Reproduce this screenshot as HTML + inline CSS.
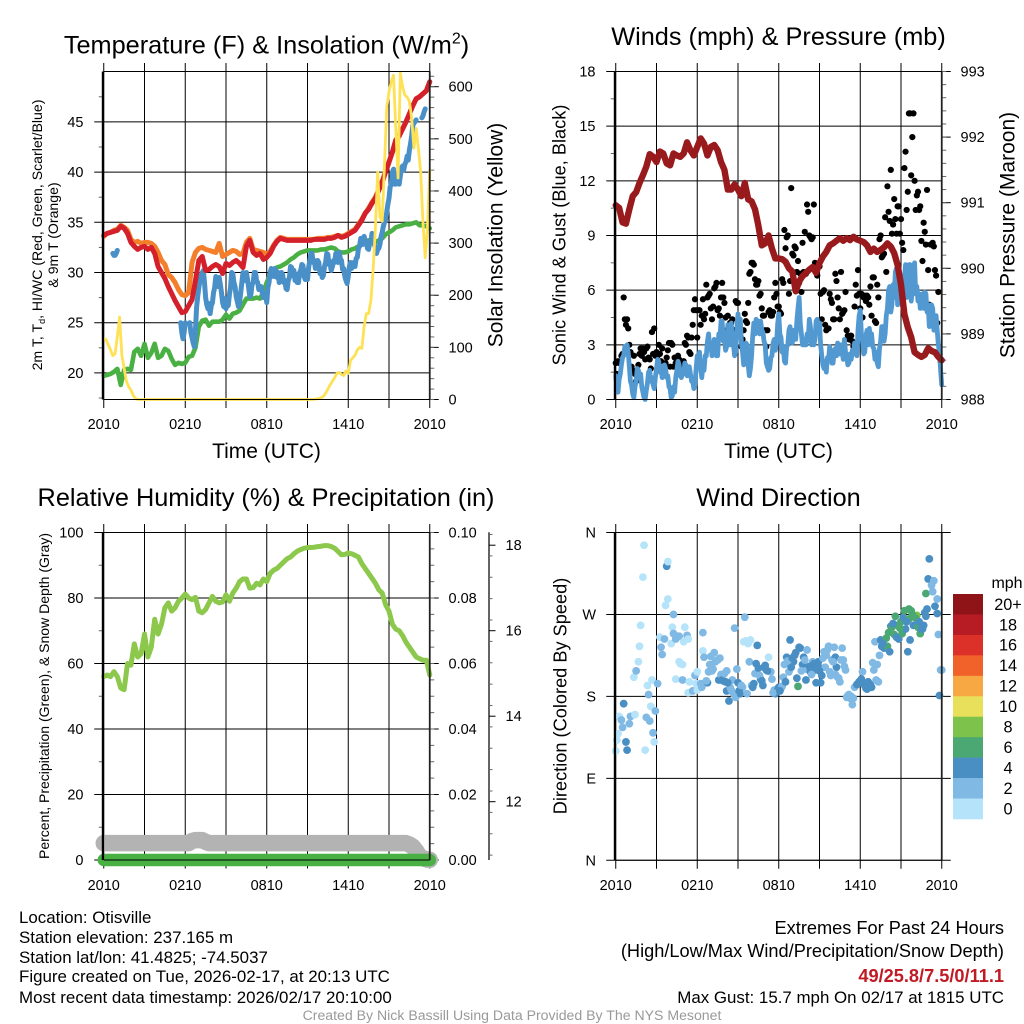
<!DOCTYPE html>
<html lang="en">
<head>
<meta charset="utf-8">
<title>Otisville Station Meteogram</title>
<style>
html,body{margin:0;padding:0;background:#fff;width:1024px;height:1024px;overflow:hidden}
svg{display:block}
text{font-family:"Liberation Sans",sans-serif;fill:#000}
.title{font-size:25.3px;text-anchor:middle}
.axt{font-size:21px;text-anchor:middle}
.axs{font-size:18.2px;text-anchor:middle}
.foot{font-size:16.9px}
.foot2{font-size:18.2px}
</style>
</head>
<body>
<svg id="chart" xmlns="http://www.w3.org/2000/svg" width="1024" height="1024" viewBox="0 0 1024 1024">
  <rect x="0" y="0" width="1024" height="1024" fill="#fff"/>
  <g id="p1"></g>
  <g id="p2"></g>
  <g id="p3"></g>
  <g id="p4"></g>

  <text class="title" x="266.5" y="53.5">Temperature (F) &amp; Insolation (W/m<tspan dy="-10" font-size="16">2</tspan><tspan dy="10">)</tspan></text>
  <text class="title" x="778.5" y="45">Winds (mph) &amp; Pressure (mb)</text>
  <text class="title" x="266" y="506">Relative Humidity (%) &amp; Precipitation (in)</text>
  <text class="title" x="778.5" y="506">Wind Direction</text>

  <text class="axt" x="266.5" y="458">Time (UTC)</text>
  <text class="axt" x="778.5" y="458">Time (UTC)</text>

  <text font-size="14.1" text-anchor="middle" transform="translate(42,235) rotate(-90)">2m T, T<tspan dy="3" font-size="9">d</tspan><tspan dy="-3">, HI/WC (Red, Green, Scarlet/Blue)</tspan></text>
  <text font-size="14.1" text-anchor="middle" transform="translate(58,235) rotate(-90)">&amp; 9m T (Orange)</text>
  <text class="axt" transform="translate(502.5,235) rotate(-90)">Solar Insolation (Yellow)</text>
  <text class="axs" transform="translate(565.5,235) rotate(-90)">Sonic Wind &amp; Gust (Blue, Black)</text>
  <text class="axt" transform="translate(1014.5,235) rotate(-90)">Station Pressure (Maroon)</text>
  <text font-size="14" text-anchor="middle" transform="translate(49,696) rotate(-90)">Percent, Precipitation (Green), &amp; Snow Depth (Gray)</text>
  <text class="axs" transform="translate(566.5,696) rotate(-90)">Direction (Colored By Speed)</text>

  <g>
    <text class="foot" x="19" y="923">Location: Otisville</text>
    <text class="foot" x="19" y="943">Station elevation: 237.165 m</text>
    <text class="foot" x="19" y="963">Station lat/lon: 41.4825; -74.5037</text>
    <text class="foot" x="19" y="982">Figure created on Tue, 2026-02-17, at 20:13 UTC</text>
    <text class="foot" x="19" y="1003">Most recent data timestamp: 2026/02/17 20:10:00</text>
  </g>
  <g text-anchor="end">
    <text class="foot2" x="1004" y="934">Extremes For Past 24 Hours</text>
    <text class="foot2" x="1004" y="957">(High/Low/Max Wind/Precipitation/Snow Depth)</text>
    <text class="foot2" x="1004" y="982" font-weight="bold" style="fill:#c01a25">49/25.8/7.5/0/11.1</text>
    <text class="foot" x="1004" y="1003">Max Gust: 15.7 mph On 02/17 at 1815 UTC</text>
  </g>
  <text x="512" y="1020" font-size="14.1" text-anchor="middle" style="fill:#999">Created By Nick Bassill Using Data Provided By The NYS Mesonet</text>
</svg>
<script>
/* ---------- shared axis labels ---------- */
const timeTickHours = [0,3,6,9,12,15,18,21,24];
const timeTickLabels = ["2010","","0210","","0810","","1410","","2010"];

/* ---------- temperature panel data (15-minute samples) ---------- */
const tempTicks = [20,25,30,35,40,45];
const solarTicks = [0,100,200,300,400,500,600];
const airTemp = [33.7,33.9,34,34.1,34.2,34.6,34.4,33.9,33,32.6,32.3,32.5,
 32.6,32.3,32.5,31.9,30.6,30,29.4,28.6,27.9,27.2,26.6,26,
 26.1,26.7,27.3,29.2,31.2,31.6,30.2,30.3,30.6,30.8,30.6,29.9,
 30.9,30.7,31,31.2,30.9,30.5,32.6,33.2,32,31.7,31.9,31.3,
 31.5,31.9,32.6,33.1,33.4,33.3,33.2,33.2,33.2,33.2,33.2,33.2,
 33.2,33.2,33.3,33.3,33.3,33.3,33.4,33.4,33.5,33.7,33.5,33.6,
 33.8,34,34.2,34.7,35.2,35.9,36.3,36.9,37.4,38.2,39,40,
 41,42,43.2,43.6,44.3,45,45.8,46.6,47.3,47.5,47.8,48.1,49];
const nineMeterTemp = [33.6,33.9,34,34.2,34.3,34.7,34.5,34.2,33.3,33,33.1,32.9,
 33,33,32.9,32.6,32,31.2,30.8,29.8,29.5,29,28.3,27.8,
 27.7,28,31,32,32.4,32.5,32.3,32.2,32.1,32,32.9,31.6,
 31.8,32,32.2,32.1,31.8,31.9,33,33.4,32.3,32.2,32.1,32,
 31.8,32.1,32.7,33.2,33.5,33.4,33.3,33.3,33.3,33.3,33.3,33.3,
 33.3,33.3,33.3,33.4,33.4,33.4,33.5,33.5,33.6,33.7,33.6,33.7,
 33.9,34.1,34.3,34.8,35.3,35.9,36.4,37,37.5,38.3,39.1,40.1,
 41,42,43.2,43.6,44.3,45,45.8,46.6,47.3,47.5,47.8,48.1,49];
const dewPoint = [19.7,19.8,19.9,20.1,20.4,18.8,20.3,20.4,20.3,22.1,22.4,21.7,
 22.9,21.5,22,22.9,21.5,21.7,22.4,22.2,21.4,20.8,21,20.9,
 21,21.6,21.7,22.5,24.6,25.2,25.3,24.7,25.1,25.1,25.1,25.3,
 25.8,25.4,25.9,26,26.2,26.8,27.4,27.4,27.4,27.5,27.4,28,
 29,29.8,30.2,30.5,30.6,30.8,31,31.3,31.5,31.8,32,32.1,
 32.2,32.2,32.2,32.2,32.3,32.3,32.4,32.5,32.4,32.1,32,32,
 32.1,32.3,32.4,32.6,32.8,33,33.2,33,33,33.2,33.4,33.8,
 34,34.2,34.5,34.6,34.7,34.8,34.8,34.9,35,34.7,34.7,34.6,34.4];
/* 5-minute samples */
const heatWindChill = [null,null,null,null,null,null,null,null,31.9,31.7,31.7,31.9,32.2,
 null,null,null,null,null,null,null,null,null,null,null,null,null,null,null,null,null,null,null,null,null,null,null,
 null,null,null,null,null,null,null,null,null,null,null,null,null,null,null,null,null,null,null,null,null,null,null,null,null,null,null,null,null,null,null,null,
 25,24,23.4,24,
 25,null,null,null,25,24,23.5,23,22.6,24.2,26.5,27.6,28.5,29.2,29.7,30,30.2,29,27.5,26.8,26.4,26.9,25.9,26.7,27,28,28.5,29.6,29.4,28.6,29.5,28.8,28,27,26.6,27.4,
 26.4,27,26.7,27.8,28.5,30,29.9,29,28.6,27.6,27.1,26.6,27,28,29,30,29.9,29.2,30,29.3,28.5,27.6,27.8,28.8,29,30,30,29.2,29,28.3,28.4,28.6,28,27.5,27.5,27.9,
 27,28.5,29,30,30.4,29.7,29.6,30.4,30.2,29.5,30,29,29.4,30,29.8,29,29.2,28.4,28.3,29.2,29.5,30.6,30.5,29.7,30.2,29.2,29.8,29,29,30,30.2,30.8,30.7,29.6,29.3,30.2,
 29.3,30.5,31.2,31.9,31.9,31,31.2,30.4,30.5,31.2,31,29.9,30.2,29.5,29.7,30.6,31,31.9,31.8,30.8,30.8,30.2,30.6,31.2,31,31.9,31.6,31,32,31.4,31.2,30.3,30.4,29.6,29.2,28.9,
 29.6,30.6,31,30.4,30.8,31,30.6,31.4,31.5,32.4,32.6,33.4,33.2,32.8,33.6,33.2,33,32.4,32.3,33,33,33.9,33.7,32.8,32.5,31.9,32.3,32.4,32.8,33.6,34,34.6,35,35.2,36,36.8,
 37.4,38.5,38.8,40,40.3,38.8,38.8,39.6,39.2,38.8,39.6,40.4,40.6,40.2,40.8,41,41.6,41.2,42.2,42.8,43.6,44.6,44.9,45,45.2,null,null,null,null,45.4,45.6,46,46.3,null,null,null,null];
/* 10-minute samples */
const solarRadiation = [117,115,105,95,84,88,120,158,85,60,35,25,18,8,2,
 0,0,0,0,0,0,0,0,0,0,0,0,0,0,0,0,0,0,0,0,0,0,0,0,0,0,0,0,0,0,0,0,0,0,0,0,0,0,0,0,0,0,0,0,0,0,0,0,0,0,0,0,0,0,0,0,0,0,0,0,0,0,0,0,0,0,0,0,0,0,0,0,0,0,0,0,0,0,
 0.5,1,2,3,6,12,20,28,35,42,50,52,48,46,55,50,75,80,85,95,100,98,
 140,165,165,190,250,330,436,350,342,450,559,590,610,622,520,425,626,600,584,580,572,540,482,520,480,436,340,272,330,440];

/* ---------- wind panel data ---------- */
const windTicks = [0,3,6,9,12,15,18];
const pressureTicks = [988,989,990,991,992,993];
/* 5-minute sustained wind */
const sustainedWind = [1.3,0.6,0.4,1.1,1.4,1.9,2.3,2.4,2.9,2.7,3,2.6,1.8,1,0.8,0.3,0.1,0.7,1,1.7,1.6,1.2,1.4,0.7,0.4,0.1,0,0.5,0.9,1.5,1.6,1,1.2,0.8,0.6,1.2,
 1.7,2.2,2.1,1.5,1.8,1.2,1.5,1.9,1.7,1.2,1.3,0.7,0.6,0.1,0.2,0.7,0.4,1.2,1.6,2.1,1.9,1.3,1.2,1.6,1.4,2,1.9,1.3,1.5,1.8,1.4,1,1,0.6,0.8,1.7,
 2.4,2,2.6,1.7,1.2,1.9,1.6,2.4,2.4,3.2,3.6,2.9,3.1,2.4,2.7,3.3,2.9,2.4,2.4,3.6,3.3,4.3,4.3,3.2,3.4,2.7,2.9,4.1,3.8,3,4.2,3.4,3,2.4,2.6,3.9,
 4.7,3.8,4.4,3.1,2.6,1.9,2.1,3.1,3,1.9,1.3,1.7,2.4,3.5,4.2,3.6,4.4,3.7,4.3,3.6,4.3,3.8,3.7,3.2,3,2,1.8,1.6,1.7,2.3,2.4,3.1,3.3,2.7,3,4.1,
 4.7,3.6,3.4,2.6,2.9,2.1,2,2.9,3,3.8,4,3.2,3.1,3.8,3.7,3.3,4.3,5,5.6,4.2,3.6,3,3.3,3,3,3.6,3.2,4.4,4,3,3.2,3,3.3,4.3,4.4,3.8,
 4.2,3,2.4,1.9,1.7,2.1,1.5,2.3,2.2,2.9,2.5,2,2,2.7,2.8,2.4,3.1,2.6,2.5,3,2.7,2.2,3.3,2.6,2.4,1.9,2,2.5,2.2,2.7,2.5,3.1,3,2.4,3.8,4.6,
 4.9,3.6,3.2,2.5,2.6,3.5,3.8,3,3.9,3.3,3.6,2.9,2.8,2.2,2.6,2,1.8,2.8,3.2,4,4,3.2,3.6,4.6,5,6,6.2,4.8,5.2,6.3,5.6,7,7.2,5.2,5.4,6.6,
 6.4,5.2,5,6.6,7.4,5.6,6.2,7.4,7.4,5.4,6,7.2,7.5,5.8,6.2,5.4,5.8,5,5.4,5.8,5,5.9,5.8,4.8,5.2,4,4.2,5.2,5,3.8,4,4.6,3.8,3,2.6,1.6,0.8];
/* 5-minute gusts */
const windGust = [2,1.4,2.1,2,2,2.4,2.5,5.6,4.4,4.1,4.4,3.9,3,2.6,1.8,1.6,2.4,1.4,1,1.3,1.9,2.5,2.8,2.4,2.8,2.6,2.2,2.8,2.9,2.3,2.2,1.7,3.7,2.5,3.9,2.4,
 2.6,2.4,3,2.5,2.1,2.8,1.7,1.4,2,2.3,2.7,3.1,1.8,3.1,3,1.8,2.3,2,1.9,2.4,2.2,2.1,2,1.9,2.1,3.1,3,3.5,3.4,2.6,2.5,3.4,4.1,4.9,5.5,4.9,
 3.4,4.9,4.9,4.1,4.6,5.5,4.4,4.7,6.3,5.6,5.7,5.8,5,4.4,5.1,6.1,6.2,6.4,4.9,5,4.6,5.6,6.4,5.6,5.3,4.5,3.8,4.6,3.2,4.2,4.2,4.4,3.3,3.8,5.4,5.3,
 5.3,4.2,3.5,2.9,3.3,3.8,4.7,4.3,4.2,5.3,6.9,7,7.5,7.5,7.4,6.6,6.3,6.3,6.5,5.7,5.8,5,4.6,4.6,3.8,2.9,3.8,4.8,4.9,4.6,4.6,4.8,5.6,6.4,5.8,5.1,
 5.1,4.8,4.7,6.6,6.4,9.3,8.3,8.9,9,5.8,6.5,11.6,8,7.9,8.4,8.3,7,7.6,6.4,6.9,5.9,8.6,7,9.2,6.9,10.7,10.3,9,8.9,8.8,8.9,10.7,7.5,7.4,6.8,7.4,
 7.3,5.8,4.4,5.9,6,4.1,3.8,3.9,3.9,5.8,5.5,5.3,4.4,4.4,6.9,6.5,5.6,5,4.4,7,4.7,4.8,4.9,5.9,3.8,3.5,3.3,3.5,3.5,3.2,2.9,5.1,6.3,5.7,7.1,5.8,
 5,5.8,4.5,5.6,5.7,5.4,5.7,5.6,5.2,6.2,4.6,6.7,6.7,4.3,4.2,6.3,5.6,8.8,9,7.8,7.9,8,10,7,11.7,10.3,9.8,12.6,9.1,9.6,11,9.9,9.1,10.6,10.6,9.1,
 9.9,8.6,8.2,12.7,13.6,10.4,11.4,15.7,15.7,12.3,14.4,15.7,12,10.4,11.2,11.4,10.4,10.6,8.7,7.6,9.7,9.2,8.5,11.5,7.1,5.2,8.5,4.8,8.6,8.4,7.1,6.8,4.2,5.9,2.5,2.1];
/* 15-minute station pressure */
const stationPressure = [990.96,990.92,990.7,990.68,990.9,991.1,991.16,991.3,991.42,991.55,991.74,991.7,
 991.62,991.78,991.75,991.6,991.57,991.75,991.72,991.7,991.75,991.92,991.8,991.72,
 991.85,991.98,991.9,991.72,991.85,991.88,991.8,991.62,991.5,991.2,991.2,991.28,
 991.2,991.1,991.3,991.05,991.02,990.9,990.65,990.35,990.38,990.5,990.3,990.15,
 990.15,990.14,990.1,990,989.95,989.65,989.8,989.88,989.93,989.98,990.02,989.93,
 990.08,990.18,990.25,990.35,990.38,990.42,990.46,990.42,990.46,990.43,990.48,990.44,
 990.42,990.4,990.35,990.25,990.3,990.25,990.28,990.32,990.38,990.33,990.23,990.05,
 989.75,989.3,989.1,988.95,988.72,988.68,988.65,988.68,988.78,988.74,988.72,988.65,988.6];

/* ---------- humidity panel data (15-minute samples) ---------- */
const humidityTicks = [0,20,40,60,80,100];
const precipTicks = [0,0.02,0.04,0.06,0.08,0.1];
const precipTickLabels = ["0.00","0.02","0.04","0.06","0.08","0.10"];
const snowTicks = [12,14,16,18];
const relativeHumidity = [56,56.5,56,57.5,56,52.5,52,60,59.5,66,62,63,
 69,62,65,73.5,69,72,77,78.5,76,77,79,80,
 81.2,80,79.5,80.2,76,75.5,76.5,78.5,80.5,79,78.5,78.8,
 81,79,81.5,83,85,85.8,85.8,83,83.2,84.5,84,85.8,
 85,87.5,88.5,89,90,91,92,92.5,93.5,94.3,94.8,95.2,
 95.4,95.4,95.5,95.7,95.8,96,96,95.7,95.2,94.2,93.2,93.3,
 93.7,93.5,93,92.5,90.5,89,87.5,86,84.5,82.5,81.5,78,
 76,72,70.5,70,68.5,66.5,65,63.5,62,61.5,61,61,56.5];
const precipitation = [0,0,0,0,0,0,0,0,0];
const snowDepth = [11.03,11.03,11.03,11.03,11.03,11.03,11.03,11.03,11.03,11.03,11.03,11.03,
 11.03,11.03,11.03,11.03,11.03,11.03,11.03,11.03,11.03,11.03,11.03,11.03,
 11.03,11.03,11.08,11.1,11.1,11.1,11.06,11.03,11.03,11.03,11.03,11.03,
 11.03,11.03,11.03,11.03,11.03,11.03,11.03,11.03,11.03,11.03,11.03,11.03,
 11.03,11.03,11.03,11.03,11.03,11.03,11.03,11.03,11.03,11.03,11.03,11.03,
 11.03,11.03,11.03,11.03,11.03,11.03,11.03,11.03,11.03,11.03,11.03,11.03,
 11.03,11.03,11.03,11.03,11.03,11.03,11.03,11.03,11.03,11.03,11.03,11.03,
 11.03,11.03,11.03,11.03,11.03,11.03,11,10.95,10.85,10.72,10.68,10.65,10.64];

/* ---------- wind direction panel data ---------- */
const directionTicks = [0,90,180,270,360];
const directionTickLabels = ["N","E","S","W","N"];
const dirSteps = [0,1,2,3,5,6,7,9,10,12,13,16,17,18,20,21,22,24,25,26,27,28,29,30,31,32,33,34,35,37,
 39,40,41,43,45,46,46,44,49,50,51,51,53,55,53,56,56,57,59,59,60,61,63,64,64,65,68,70,71,72,
 72,75,76,77,77,78,81,82,83,84,85,87,88,90,91,93,94,95,97,98,98,100,101,103,105,106,107,108,
 110,112,114,113,115,116,118,119,120,122,123,124,125,126,128,130,131,133,135,137,138,140,141,143,144,
 146,147,148,149,151,153,154,155,157,158,160,161,162,163,165,166,168,169,170,172,174,175,176,177,179,181,181,
 182,184,185,187,188,189,190,191,193,194,195,196,197,199,200,201,202,204,205,207,208,209,210,211,213,215,216,218,
 219,221,222,224,225,227,228,229,230,232,233,234,235,237,239,240,242,243,244,246,247,249,250,252,253,
 254,255,256,258,259,259,260,261,263,266,267,269,271,272,274,274,275,276,277,279,280,281,282,284,284,285,286,287,288,
 80,86,92,96,99,102,104,109,111,117,121,127,129,132,134,139,145,150,152,156,159,164,167,171,173,178,180,183,186,192,194,198,203,206,214,217,220,223,226,231,236,241,245,248,251,257,262,265,268,270,273];
const dirDegrees = [120,132,139,158,154,146,172,130,121,150,158,201,160,208,218,235,258,311,346,121,157,192,182,153,169,198,140,130,164,194,
 245,234,226,243,323,328,287,280,238,256,270,249,243,246,199,218,246,216,215,198,240,256,247,243,184,196,186,203,194,187,
 207,194,190,230,250,223,195,207,215,224,208,228,218,220,198,204,198,197,196,208,186,175,190,198,255,179,210,195,
 183,190,267,240,241,183,218,242,192,194,205,216,236,211,199,192,212,209,223,207,199,187,183,187,190,
 189,191,201,215,223,207,242,212,218,225,200,191,234,233,215,223,198,231,209,207,218,216,209,195,218,195,211,
 203,229,212,231,235,207,203,220,234,223,212,201,200,220,233,220,213,179,181,178,180,171,178,190,193,196,197,207,
 194,189,188,190,193,217,209,240,198,196,225,242,235,233,244,235,229,257,256,248,268,258,243,262,249,
 267,274,254,229,265,276,242,274,258,269,256,249,254,258,268,293,276,309,331,302,295,307,279,271,287,248,181,209,209,
 197,210,222,205,195,187,183,186,192,238,190,203,197,214,208,184,186,196,219,222,228,208,220,213,204,214,208,222,225,218,204,196,209,182,194,199,192,196,190,215,238,250,260,245,255,262,270,266,262,254,272];
const dirSpeeds = [0,0,0,0,2,2,4,4,4,2,2,0,0,2,0,0,0,0,0,0,2,0,2,2,0,0,2,0,2,2,
 0,2,2,2,4,0,0,0,0,0,2,2,2,2,0,0,2,0,0,2,0,0,2,0,0,0,2,2,0,0,
 0,2,2,0,2,2,4,2,2,2,2,2,2,2,4,2,4,4,4,2,4,4,2,2,2,2,2,4,
 4,2,2,0,0,2,2,0,2,4,2,4,4,4,4,4,4,4,0,2,2,2,4,4,4,
 4,2,2,2,4,2,4,4,4,4,4,6,4,4,4,4,4,2,2,4,2,4,4,4,4,4,4,
 4,2,2,2,2,2,2,2,2,4,4,2,2,2,2,2,2,2,2,2,2,2,2,2,4,4,4,2,
 2,4,4,4,4,2,2,2,2,2,2,4,4,4,6,6,4,4,6,6,6,6,4,6,6,
 4,6,4,4,6,6,4,6,4,8,6,6,4,4,4,6,4,4,4,2,2,2,4,4,2,2,4,2,2,
 2,2,2,2,4,2,2,4,2,0,4,2,4,4,4,2,4,4,2,4,4,2,2,4,2,4,4,2,2,2,2,2,2,2,4,4,4,4,4,2,4,6,4,4,6,4,6,6,4,4,4];
const legendLabels = ["20+","18","16","14","12","10","8","6","4","2","0"];
const legendColors = ["#8f1418","#b71b24","#dc3128","#f0622a","#f7a842","#e8e05b","#7cc24b","#4ba873","#4a8fc4","#7fb9e4","#b5e3f9"];

/* ---------- drawing ---------- */
const SVGNS = "http://www.w3.org/2000/svg";
function mk(tag, attrs, parent){
  const el = document.createElementNS(SVGNS, tag);
  for (const k in attrs) el.setAttribute(k, attrs[k]);
  parent.appendChild(el);
  return el;
}
function linearScale(d0, p0, d1, p1){
  return function(v){ return p0 + (v - d0) * (p1 - p0) / (d1 - d0); };
}
function drawSeries(parent, values, xFrac, yFn, color, width, name){
  let d = "", pen = false;
  values.forEach(function(v, i){
    if (v === null) { pen = false; return; }
    const x = xFrac(i / (values.length - 1)).toFixed(2);
    const y = yFn(v).toFixed(2);
    d += (pen ? "L" : "M") + x + " " + y;
    pen = true;
  });
  const p = mk("path", {d:d, fill:"none", stroke:color, "stroke-width":width, "stroke-linecap":"round", "stroke-linejoin":"round"}, parent);
  
  
}
function hLine(parent, x1, x2, y, color, w, name){
  const l = mk("line", {x1:x1, x2:x2, y1:y, y2:y, stroke:color, "stroke-width":w}, parent);
  
  
}
function vLine(parent, x, y1, y2, color, w, name){
  const l = mk("line", {x1:x, x2:x, y1:y1, y2:y2, stroke:color, "stroke-width":w}, parent);
  
  
}
function label(parent, x, y, str, anchor, name, size){
  const t = mk("text", {x:x, y:y, "font-size":size || 14.5, "text-anchor":anchor}, parent);
  t.textContent = str;
  
  
}
function timeGrid(parent, x0, x1, top, bottom, labelY){
  const frac = linearScale(0, x0, 24, x1);
  timeTickHours.forEach(function(h, i){
    vLine(parent, frac(h), top - 8.5, bottom + 8.5, "#000", 1, "vertical-gridline");
    if (timeTickLabels[i]) label(parent, frac(h), labelY, timeTickLabels[i], "middle", "x-tick-label");
  });
}
function spines(parent, x0, x1, top, bottom){
  vLine(parent, x0 - 0.8, top, bottom, "#000", 2.3, "left-spine");
  vLine(parent, x1, top, bottom, "#222", 1.8, "right-spine");
  hLine(parent, x0, x1, top, "#000", 1, "top-spine");
  hLine(parent, x0, x1, bottom, "#000", 1, "bottom-spine");
}
function minorTicks(parent, x, dir, len, from, to, step, yFn, name){
  const count = Math.round((to - from) / step);
  for (let i = 0; i <= count; i++) {
    const y = yFn(from + i * step);
    hLine(parent, x, x + dir * len, y, "#666", 1, name);
  }
}

/* ---- panel 1: temperature ---- */
(function(){
  const g = document.getElementById("p1");
  const x0 = 103.75, x1 = 429.75, top = 71.5, bottom = 399.5;
  const xf = linearScale(0, x0, 1, x1);
  const yT = linearScale(20, 372.9, 45, 121.9);
  const yS = linearScale(0, 399.5, 600, 86.7);
  timeGrid(g, x0, x1, top, bottom, 429);
  tempTicks.forEach(function(v){
    hLine(g, x0 - 9.5, x1, yT(v), "#000", 1, "temperature-gridline");
    label(g, 83.5, yT(v) + 5, String(v), "end", "temperature-tick-label");
  });
  minorTicks(g, x0, -1, 5, 17.5, 47.5, 5, yT, "temperature-minor-tick");
  solarTicks.forEach(function(v){
    hLine(g, x1, x1 + 9, yS(v), "#000", 1, "solar-tick");
    label(g, 448.5, yS(v) + 5, String(v), "start", "solar-tick-label");
  });
  minorTicks(g, x1, 1, 4.5, 0, 620, 20, yS, "solar-minor-tick");
  drawSeries(g, nineMeterTemp, xf, yT, "#f47f2b", 5, "nine-meter-temperature-line");
  drawSeries(g, dewPoint, xf, yT, "#49b043", 4.6, "dew-point-line");
  drawSeries(g, heatWindChill, xf, yT, "#4a90c8", 5, "heat-index-wind-chill-line");
  drawSeries(g, airTemp, xf, yT, "#d3202a", 5, "air-temperature-line");
  drawSeries(g, solarRadiation, xf, yS, "#fee154", 2.8, "solar-insolation-line");
  spines(g, x0, x1, top, bottom);
})();

/* ---- panel 2: winds ---- */
(function(){
  const g = document.getElementById("p2");
  const x0 = 615.75, x1 = 941.75, top = 71.5, bottom = 399.5;
  const xf = linearScale(0, x0, 1, x1);
  const yW = linearScale(0, bottom, 18, top);
  const yP = linearScale(988, bottom, 993, top);
  timeGrid(g, x0, x1, top, bottom, 429);
  windTicks.forEach(function(v){
    hLine(g, x0 - 9.5, x1, yW(v), "#000", 1, "wind-gridline");
    label(g, 595.5, yW(v) + 5, String(v), "end", "wind-tick-label");
  });
  minorTicks(g, x0, -1, 5, 1.5, 16.5, 3, yW, "wind-minor-tick");
  pressureTicks.forEach(function(v){
    hLine(g, x1, x1 + 9, yP(v), "#000", 1, "pressure-tick");
    label(g, 960.5, yP(v) + 5, String(v), "start", "pressure-tick-label");
  });
  minorTicks(g, x1, 1, 4.5, 988, 993, 0.2, yP, "pressure-minor-tick");
  windGust.forEach(function(v, i){
    const c = mk("circle", {cx:xf(i / 288).toFixed(2), cy:yW(v).toFixed(2), r:3.1, fill:"#000"}, g);
    
    
  });
  drawSeries(g, sustainedWind, xf, yW, "#5299d2", 4.8, "sonic-wind-line");
  drawSeries(g, stationPressure, xf, yP, "#981a1d", 6.4, "station-pressure-line");
  spines(g, x0, x1, top, bottom);
})();

/* ---- panel 3: humidity ---- */
(function(){
  const g = document.getElementById("p3");
  const x0 = 103.75, x1 = 429.75, top = 532.5, bottom = 860;
  const xf = linearScale(0, x0, 1, x1);
  const yH = linearScale(0, bottom, 100, top);
  const yR = linearScale(0, bottom, 0.1, top);
  const yS = linearScale(12, 801.7, 18, 545.2);
  timeGrid(g, x0, x1, top, bottom, 890);
  humidityTicks.forEach(function(v){
    hLine(g, x0 - 9.5, x1, yH(v), "#000", 1, "humidity-gridline");
    label(g, 83.5, yH(v) + 5, String(v), "end", "humidity-tick-label");
  });
  minorTicks(g, x0, -1, 5, 10, 90, 20, yH, "humidity-minor-tick");
  precipTicks.forEach(function(v, i){
    hLine(g, x1, x1 + 9, yR(v), "#000", 1, "precipitation-tick");
    label(g, 448.5, yR(v) + 5, precipTickLabels[i], "start", "precipitation-tick-label");
  });
  minorTicks(g, x1, 1, 4.5, 0, 0.1, 0.005, yR, "precipitation-minor-tick");
  vLine(g, 489, 532.3, 860, "#222", 1.4, "snow-depth-axis-line");
  snowTicks.forEach(function(v){
    hLine(g, 489, 495.5, yS(v), "#000", 1, "snow-depth-tick");
    label(g, 505.5, yS(v) + 5, String(v), "start", "snow-depth-tick-label");
  });
  minorTicks(g, 489, 1, 3.5, 10.75, 18.25, 0.5, yS, "snow-depth-minor-tick");
  drawSeries(g, snowDepth, xf, yS, "#b3b3b3", 16.5, "snow-depth-line");
  drawSeries(g, relativeHumidity, xf, yH, "#8cc84b", 5, "relative-humidity-line");
  drawSeries(g, precipitation, xf, yR, "#49b043", 12.5, "precipitation-line");
  spines(g, x0, x1, top, bottom);
})();

/* ---- panel 4: wind direction ---- */
(function(){
  const g = document.getElementById("p4");
  const x0 = 615.75, x1 = 941.75, top = 532.5, bottom = 860.3;
  const xf = linearScale(0, x0, 288, x1);
  const yD = linearScale(0, bottom, 360, top);
  timeGrid(g, x0, x1, top, bottom, 890);
  directionTicks.forEach(function(v, i){
    hLine(g, x0 - 9.5, x1 + 9, yD(v), "#000", 1, "direction-gridline");
    label(g, 596, yD(v) + 5, directionTickLabels[i], "end", "direction-tick-label");
  });
  dirDegrees.forEach(function(v, i){
    const bin = legendColors.length - 1 - Math.floor(dirSpeeds[i] / 2);
    const c = mk("circle", {cx:xf(dirSteps[i]).toFixed(2), cy:yD(v).toFixed(2), r:3.9, fill:legendColors[bin]}, g);
    
    
  });
  spines(g, x0, x1, top, bottom);
  const boxH = (819 - 594) / legendLabels.length;
  legendLabels.forEach(function(s, i){
    const r = mk("rect", {x:953, y:(594 + i * boxH).toFixed(2), width:30, height:(boxH + 0.3).toFixed(2), fill:legendColors[i]}, g);
    
    
    label(g, 1008, 594 + (i + 0.5) * boxH + 5.6, s, "middle", "legend-label", 16.3);
  });
  label(g, 1007, 588, "mph", "middle", "legend-title", 16);
})();
</script>
</body>
</html>
